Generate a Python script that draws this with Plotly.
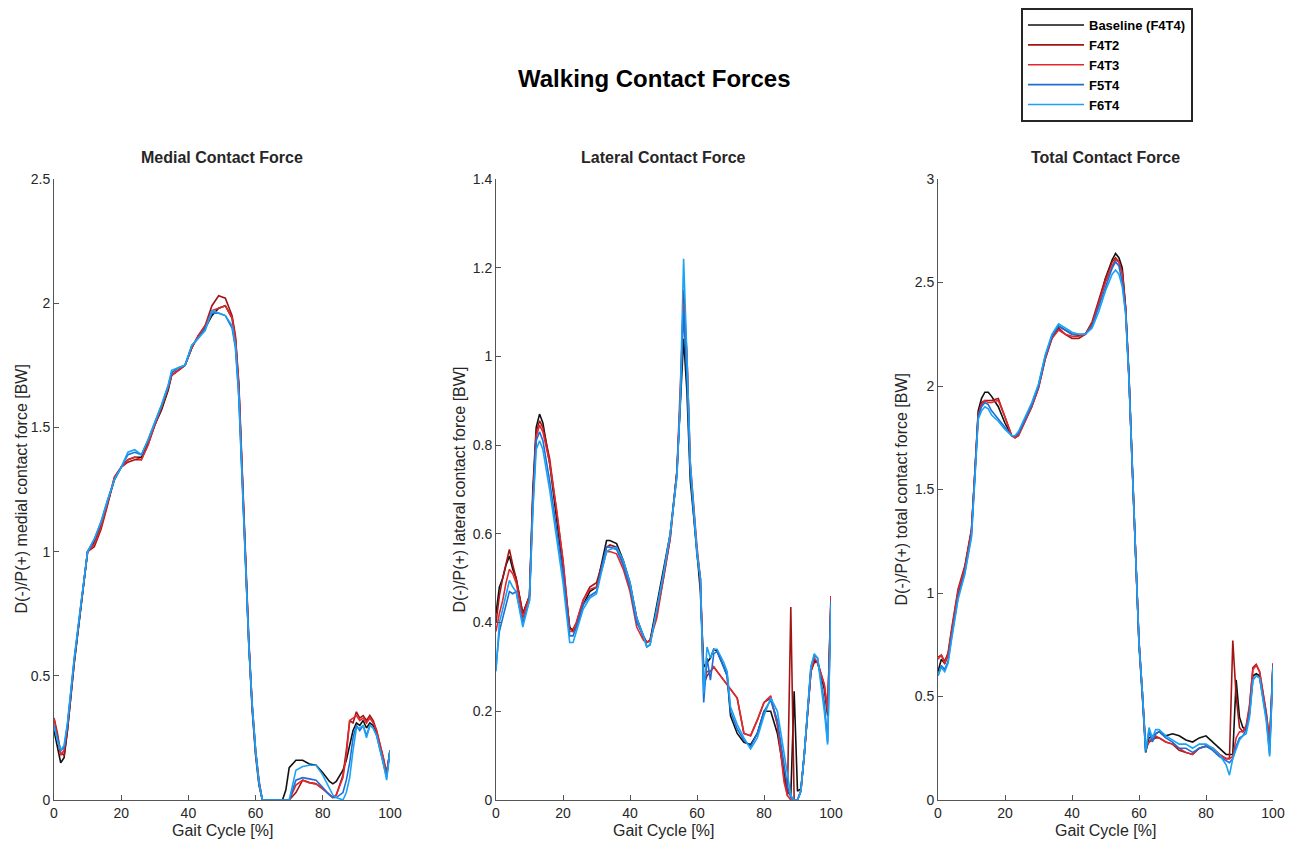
import plotly.graph_objects as go

# ---------------- data ----------------
SERIES_NAMES = ["Baseline (F4T4)", "F4T2", "F4T3", "F5T4", "F6T4"]
SERIES_COLORS = ["#111111", "#a31515", "#e0282e", "#1c6fd8", "#1aa3f5"]

# Medial contact force
MED_X = [0,1,2,3,4, 6,8,10,12,14, 16,18,20,22,24, 26,28,30,32,34,
         35,37,39,41,43, 45,47,49,51,53, 54,55,56,57,58, 59,60,61,62,66,
         68,69,70,72,74, 76,78,80,82,83, 84,86,87,88,89, 90,91,92,93,94,
         95,96,98,99,100]
MED_BASE = [0.28,0.22,0.15,0.17,0.28, 0.55,0.78,1.0,1.04,1.11, 1.2,1.29,1.34,1.37,1.38,
            1.38,1.44,1.51,1.57,1.65, 1.71,1.73,1.75,1.82,1.87, 1.9,1.95,1.98,1.99,1.94,
            1.85,1.66,1.3,0.92,0.62, 0.36,0.18,0.06,0.0,0.0, 0.0,0.04,0.13,0.16,0.16,
            0.145,0.14,0.11,0.075,0.065, 0.075,0.12,0.16,0.22,0.28, 0.31,0.3,0.32,0.29,0.31,
            0.3,0.27,0.15,0.1,0.2]
MED_F4T2 = [0.33,0.27,0.19,0.18,0.28, 0.55,0.78,1.0,1.02,1.09, 1.19,1.3,1.34,1.36,1.37,
            1.37,1.43,1.51,1.58,1.66, 1.71,1.73,1.75,1.82,1.87, 1.91,1.99,2.03,2.02,1.95,
            1.87,1.68,1.32,0.95,0.64, 0.38,0.2,0.08,0.0,0.0, 0.0,0.0,0.0,0.03,0.08,
            0.07,0.065,0.045,0.02,0.01, 0.02,0.1,0.2,0.32,0.31, 0.355,0.33,0.34,0.32,0.34,
            0.32,0.28,0.17,0.11,0.2]
MED_F4T3 = [0.33,0.26,0.18,0.2,0.3, 0.56,0.78,1.0,1.03,1.1, 1.2,1.3,1.34,1.37,1.38,
            1.37,1.43,1.51,1.58,1.66, 1.71,1.73,1.75,1.82,1.87, 1.91,1.97,1.98,1.99,1.94,
            1.86,1.67,1.31,0.93,0.63, 0.37,0.19,0.07,0.0,0.0, 0.0,0.0,0.0,0.06,0.08,
            0.07,0.065,0.045,0.02,0.01, 0.02,0.09,0.18,0.32,0.33, 0.34,0.32,0.33,0.31,0.33,
            0.31,0.28,0.17,0.1,0.2]
MED_F5T4 = [0.3,0.25,0.2,0.21,0.3, 0.56,0.78,1.0,1.05,1.12, 1.21,1.29,1.34,1.39,1.4,
            1.39,1.45,1.52,1.59,1.67, 1.72,1.74,1.75,1.83,1.86, 1.9,1.96,1.96,1.95,1.9,
            1.82,1.62,1.28,0.92,0.62, 0.38,0.2,0.07,0.0,0.0, 0.0,0.0,0.0,0.08,0.09,
            0.085,0.08,0.05,0.02,0.01, 0.01,0.03,0.08,0.15,0.25, 0.3,0.28,0.3,0.26,0.3,
            0.29,0.26,0.15,0.09,0.2]
MED_F6T4 = [0.3,0.24,0.2,0.22,0.31, 0.57,0.79,1.0,1.05,1.12, 1.21,1.29,1.34,1.4,1.41,
            1.39,1.45,1.52,1.59,1.67, 1.73,1.74,1.75,1.83,1.86, 1.89,1.97,1.96,1.95,1.91,
            1.83,1.63,1.28,0.92,0.62, 0.38,0.2,0.07,0.0,0.0, 0.0,0.0,0.0,0.12,0.135,
            0.14,0.14,0.1,0.05,0.02, 0.01,0.0,0.03,0.09,0.2, 0.29,0.29,0.3,0.25,0.3,
            0.29,0.26,0.15,0.08,0.2]

# Lateral contact force
LAT_X = [0,1,2,3,4, 5,6,8,10,11, 12,13,14,16,18, 20,22,23,24,26, 28,30,32,33,34,
         36,38,40,42,44, 45,46,48,50,52, 54,55,56,57,58, 60,61,62,63,64, 65,66,68,69,70,
         72,74,76,78,80, 82,84,86,87,88, 89,90,91,92,94, 95,96,98,99,100]
LAT_BASE = [0.42,0.48,0.5,0.53,0.55, 0.52,0.5,0.42,0.46,0.7, 0.84,0.87,0.85,0.76,0.64,
            0.52,0.39,0.38,0.39,0.44, 0.47,0.48,0.55,0.585,0.585, 0.578,0.54,0.49,0.41,0.37,
            0.355,0.36,0.44,0.52,0.6, 0.74,0.88,1.04,0.92,0.72, 0.56,0.47,0.3,0.31,0.32,
            0.34,0.335,0.3,0.28,0.19, 0.15,0.13,0.125,0.15,0.2, 0.2,0.15,0.06,0.02,0.01,
            0.245,0.02,0.025,0.1,0.29, 0.315,0.31,0.25,0.19,0.45]
LAT_F4T2 = [0.4,0.46,0.5,0.53,0.565, 0.53,0.5,0.42,0.46,0.68, 0.83,0.855,0.84,0.77,0.66,
            0.54,0.385,0.385,0.4,0.45, 0.48,0.49,0.54,0.57,0.575, 0.57,0.53,0.48,0.41,0.365,
            0.355,0.36,0.42,0.5,0.59, 0.74,0.9,1.15,1.0,0.75, 0.56,0.5,0.26,0.28,0.29,
            0.3,0.29,0.27,0.26,0.25, 0.23,0.15,0.145,0.18,0.22, 0.23,0.17,0.05,0.01,0.435,
            0.0,0.0,0.02,0.1,0.29, 0.31,0.31,0.26,0.2,0.46]
LAT_F4T3 = [0.38,0.42,0.45,0.49,0.52, 0.51,0.49,0.41,0.46,0.68, 0.82,0.845,0.83,0.76,0.66,
            0.54,0.38,0.38,0.4,0.45, 0.475,0.48,0.53,0.56,0.56, 0.555,0.52,0.47,0.39,0.36,
            0.355,0.36,0.41,0.5,0.59, 0.74,0.92,1.12,1.0,0.76, 0.57,0.5,0.27,0.29,0.29,
            0.3,0.29,0.27,0.26,0.25, 0.23,0.15,0.145,0.18,0.22, 0.235,0.17,0.04,0.01,0.0,
            0.0,0.0,0.02,0.1,0.29, 0.32,0.31,0.26,0.2,0.46]
LAT_F5T4 = [0.3,0.38,0.41,0.44,0.47, 0.465,0.47,0.4,0.45,0.66, 0.81,0.83,0.81,0.72,0.62,
            0.51,0.37,0.37,0.39,0.44, 0.46,0.47,0.54,0.57,0.57, 0.565,0.53,0.48,0.4,0.37,
            0.345,0.35,0.43,0.51,0.6, 0.73,0.9,1.1,0.95,0.74, 0.55,0.5,0.22,0.32,0.27,
            0.33,0.335,0.3,0.28,0.2, 0.16,0.135,0.12,0.15,0.2, 0.225,0.18,0.08,0.03,0.005,
            0.0,0.0,0.02,0.1,0.3, 0.325,0.32,0.22,0.13,0.45]
LAT_F6T4 = [0.29,0.4,0.43,0.46,0.495, 0.48,0.47,0.39,0.45,0.65, 0.79,0.81,0.79,0.7,0.6,
            0.49,0.355,0.355,0.38,0.43, 0.455,0.465,0.53,0.56,0.565, 0.57,0.54,0.49,0.41,0.37,
            0.345,0.35,0.43,0.51,0.6, 0.73,0.9,1.22,1.0,0.76, 0.56,0.5,0.24,0.345,0.32,
            0.34,0.34,0.31,0.29,0.21, 0.17,0.14,0.115,0.14,0.19, 0.23,0.2,0.1,0.05,0.01,
            0.0,0.0,0.02,0.1,0.3, 0.33,0.32,0.2,0.125,0.44]

# Total contact force
TOT_X = [0,1,2,3,4, 6,8,10,11,12, 13,14,15,16,18, 20,22,23,24,26, 28,30,32,34,36,
         38,40,42,44,46, 48,50,52,53,54, 55,56,57,58,59, 60,61,62,63,64, 65,66,68,70,72,
         74,76,78,80,82, 84,86,87,88,89, 90,91,92,93,94, 95,96,98,99,100]
TOT_BASE = [0.62,0.68,0.66,0.7,0.8, 1.0,1.12,1.3,1.58,1.88, 1.94,1.97,1.97,1.95,1.9,
            1.82,1.76,1.755,1.77,1.84, 1.91,2.0,2.14,2.24,2.29, 2.27,2.25,2.245,2.25,2.3,
            2.4,2.52,2.61,2.64,2.62, 2.57,2.38,2.05,1.6,1.15, 0.75,0.5,0.23,0.3,0.31,
            0.32,0.33,0.31,0.32,0.31, 0.29,0.28,0.3,0.31,0.28, 0.25,0.22,0.22,0.22,0.58,
            0.4,0.35,0.34,0.42,0.6, 0.61,0.6,0.4,0.26,0.65]
TOT_F4T2 = [0.69,0.7,0.67,0.71,0.82, 1.02,1.13,1.31,1.58,1.86, 1.92,1.93,1.93,1.93,1.94,
            1.85,1.76,1.75,1.76,1.83, 1.9,1.99,2.13,2.23,2.28, 2.25,2.23,2.23,2.25,2.31,
            2.41,2.52,2.6,2.62,2.6, 2.55,2.38,2.05,1.6,1.15, 0.77,0.52,0.25,0.28,0.29,
            0.3,0.3,0.28,0.27,0.24, 0.23,0.22,0.25,0.26,0.25, 0.22,0.2,0.2,0.77,0.5,
            0.35,0.33,0.35,0.45,0.64, 0.655,0.62,0.42,0.28,0.66]
TOT_F4T3 = [0.68,0.7,0.66,0.7,0.81, 1.01,1.12,1.3,1.58,1.86, 1.91,1.93,1.92,1.92,1.93,
            1.85,1.76,1.75,1.76,1.83, 1.9,1.99,2.13,2.23,2.27, 2.25,2.24,2.24,2.25,2.3,
            2.4,2.5,2.58,2.61,2.6, 2.54,2.37,2.04,1.6,1.15, 0.76,0.52,0.26,0.28,0.3,
            0.31,0.3,0.28,0.27,0.25, 0.23,0.22,0.25,0.26,0.25, 0.22,0.2,0.2,0.21,0.3,
            0.33,0.33,0.36,0.46,0.63, 0.65,0.62,0.42,0.28,0.66]
TOT_F5T4 = [0.6,0.65,0.63,0.67,0.78, 0.98,1.1,1.28,1.56,1.85, 1.9,1.92,1.91,1.88,1.84,
            1.8,1.76,1.76,1.77,1.84, 1.91,2.0,2.14,2.24,2.29, 2.27,2.25,2.25,2.25,2.29,
            2.38,2.48,2.57,2.6,2.58, 2.5,2.36,2.04,1.6,1.15, 0.76,0.52,0.23,0.33,0.28,
            0.32,0.33,0.3,0.28,0.25, 0.25,0.23,0.25,0.26,0.24, 0.21,0.19,0.18,0.2,0.26,
            0.3,0.31,0.34,0.42,0.58, 0.6,0.59,0.4,0.22,0.65]
TOT_F6T4 = [0.6,0.64,0.62,0.66,0.77, 0.97,1.09,1.27,1.55,1.84, 1.88,1.9,1.89,1.86,1.83,
            1.79,1.76,1.76,1.78,1.85, 1.92,2.01,2.15,2.25,2.3, 2.28,2.26,2.25,2.25,2.28,
            2.36,2.46,2.54,2.56,2.54, 2.48,2.35,2.03,1.6,1.15, 0.76,0.52,0.24,0.35,0.3,
            0.34,0.34,0.31,0.29,0.27, 0.27,0.25,0.27,0.27,0.25, 0.22,0.17,0.12,0.2,0.25,
            0.29,0.31,0.32,0.4,0.58, 0.6,0.59,0.38,0.21,0.64]

X_TICKS = [0, 20, 40, 60, 80, 100]
MED_Y_TICKS = [0, 0.5, 1, 1.5, 2, 2.5]
LAT_Y_TICKS = [0, 0.2, 0.4, 0.6, 0.8, 1, 1.2, 1.4]
TOT_Y_TICKS = [0, 0.5, 1, 1.5, 2, 2.5, 3]
X_TITLE = "Gait Cycle [%]"

PANELS = [
    ("Medial Contact Force", "D(-)/P(+) medial contact force [BW]", MED_X,
     [MED_BASE, MED_F4T2, MED_F4T3, MED_F5T4, MED_F6T4], MED_Y_TICKS, 2.5),
    ("Lateral Contact Force", "D(-)/P(+) lateral contact force [BW]", LAT_X,
     [LAT_BASE, LAT_F4T2, LAT_F4T3, LAT_F5T4, LAT_F6T4], LAT_Y_TICKS, 1.4),
    ("Total Contact Force", "D(-)/P(+) total contact force [BW]", TOT_X,
     [TOT_BASE, TOT_F4T2, TOT_F4T3, TOT_F5T4, TOT_F6T4], TOT_Y_TICKS, 3.0),
]

# ---------------- layout ----------------
# The page body has an 8px default margin, so the figure is offset by that
# amount; window positions are converted to figure positions.
OFF = 8
WIN_W, WIN_H = 1300, 843
W, H = WIN_W - 2 * OFF, WIN_H - OFF


def px_x(p):
    return (p - OFF) / W


def px_y(p):
    return 1 - (p - OFF) / H


FONT = "Liberation Sans, Arial, sans-serif"
TXT = "#262626"
AX = "#555555"
X_DOMAINS = [(54, 390), (496, 831), (938, 1273)]
Y_TITLE_X = [21, 459, 901]
Y_TOP, Y_BOT = 179, 800

fig = go.Figure()
annotations = []
for i, (title, ylab, xs, ys_list, yticks, ymax) in enumerate(PANELS):
    n = "" if i == 0 else str(i + 1)
    for j, ys in enumerate(ys_list):
        assert len(ys) == len(xs), (title, j, len(ys), len(xs))
        fig.add_trace(go.Scatter(
            x=xs, y=ys, mode="lines", name="<b>" + SERIES_NAMES[j] + "</b>",
            line=dict(color=SERIES_COLORS[j], width=1.6),
            xaxis="x" + n, yaxis="y" + n, showlegend=(i == 0),
        ))
    x0, x1 = X_DOMAINS[i]
    common = dict(showline=True, linecolor=AX, linewidth=1, ticks="inside",
                  ticklen=5, tickcolor=AX, showgrid=False, zeroline=False,
                  automargin=False,
                  tickfont=dict(family=FONT, size=14, color=TXT))
    fig.update_layout(**{
        "xaxis" + n: dict(domain=[px_x(x0), px_x(x1)], range=[0, 100], tickvals=X_TICKS,
                          anchor="y" + n, **common),
        "yaxis" + n: dict(domain=[px_y(Y_BOT), px_y(Y_TOP)], range=[0, ymax],
                          tickvals=yticks, anchor="x" + n, **common),
    })
    # subplot title
    annotations.append(dict(
        text="<b>" + title + "</b>", x=px_x((x0 + x1) / 2), y=px_y(158),
        xref="paper", yref="paper", xanchor="center", yanchor="middle",
        showarrow=False, font=dict(family=FONT, size=16, color=TXT)))
    # x-axis title
    annotations.append(dict(
        text=X_TITLE, x=px_x((x0 + x1) / 2), y=px_y(830),
        xref="paper", yref="paper", xanchor="center", yanchor="middle",
        showarrow=False, font=dict(family=FONT, size=16, color=TXT)))
    # y-axis title
    annotations.append(dict(
        text=ylab, x=px_x(Y_TITLE_X[i]), y=px_y((Y_TOP + Y_BOT) / 2),
        xref="paper", yref="paper", xanchor="center", yanchor="middle",
        textangle=-90, showarrow=False,
        font=dict(family=FONT, size=16, color=TXT)))

annotations.append(dict(
    text="<b>Walking Contact Forces</b>", x=px_x(654), y=px_y(78),
    xref="paper", yref="paper", xanchor="center", yanchor="middle",
    showarrow=False, font=dict(family=FONT, size=24, color="#000000")))

fig.update_layout(
    template=None,
    width=W, height=H, autosize=False,
    margin=dict(l=0, r=0, t=0, b=0, pad=0, autoexpand=False),
    paper_bgcolor="white", plot_bgcolor="white",
    annotations=annotations,
    legend=dict(x=px_x(1021), y=1.0, xanchor="left", yanchor="top",
                bgcolor="white", bordercolor="#262626", borderwidth=2,
                font=dict(family=FONT, size=13, color="#000000"),
                tracegroupgap=0, itemwidth=56),
)

fig.write_html("out.html")
